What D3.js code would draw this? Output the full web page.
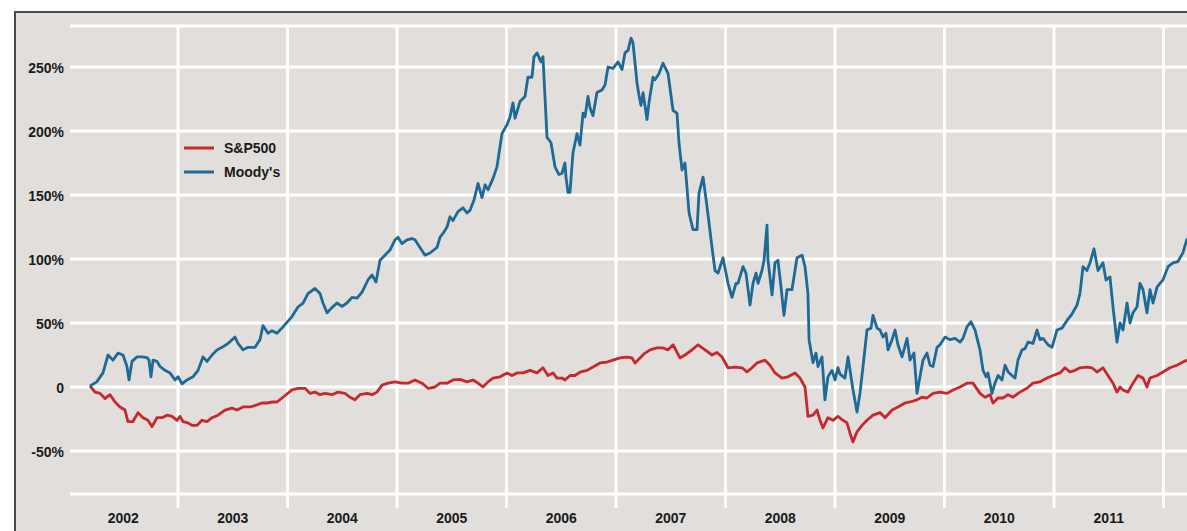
<!DOCTYPE html>
<html>
<head>
<meta charset="utf-8">
<script src="https://cdn.jsdelivr.net/npm/d3@7"></script>
<style>
  html, body { margin: 0; padding: 0; background: #ffffff; }
  svg { display: block; }
  text { font-family: "Liberation Sans", Arial, sans-serif; }
</style>
</head>
<body>
<svg id="chart" width="1187" height="531"></svg>
<script>
// ---------- data (decimal years, % change since start) ----------
const moodysDates = [2002.196,2002.258,2002.315,2002.361,2002.406,2002.452,2002.498,2002.534,2002.553,2002.580,2002.626,2002.671,2002.717,2002.735,2002.753,2002.772,2002.808,2002.836,2002.881,2002.927,2002.973,2003.000,2003.037,2003.082,2003.137,2003.183,2003.228,2003.265,2003.311,2003.356,2003.402,2003.457,2003.521,2003.548,2003.594,2003.639,2003.703,2003.749,2003.776,2003.822,2003.858,2003.904,2003.959,2004.041,2004.096,2004.142,2004.187,2004.251,2004.297,2004.324,2004.361,2004.406,2004.452,2004.498,2004.543,2004.589,2004.635,2004.680,2004.735,2004.772,2004.808,2004.845,2004.890,2004.936,2004.982,2005.009,2005.046,2005.091,2005.137,2005.164,2005.210,2005.256,2005.301,2005.365,2005.393,2005.420,2005.457,2005.484,2005.511,2005.557,2005.603,2005.639,2005.667,2005.703,2005.740,2005.776,2005.804,2005.831,2005.877,2005.913,2005.959,2006.005,2006.032,2006.059,2006.078,2006.123,2006.169,2006.196,2006.233,2006.251,2006.279,2006.315,2006.333,2006.370,2006.406,2006.443,2006.479,2006.507,2006.534,2006.543,2006.562,2006.580,2006.607,2006.644,2006.671,2006.699,2006.717,2006.744,2006.763,2006.790,2006.826,2006.872,2006.900,2006.927,2006.973,2007.018,2007.055,2007.082,2007.110,2007.137,2007.155,2007.192,2007.210,2007.228,2007.247,2007.283,2007.301,2007.338,2007.356,2007.393,2007.429,2007.475,2007.521,2007.557,2007.575,2007.603,2007.630,2007.667,2007.703,2007.740,2007.758,2007.795,2007.831,2007.877,2007.904,2007.932,2007.977,2008.023,2008.059,2008.096,2008.114,2008.160,2008.187,2008.224,2008.251,2008.279,2008.297,2008.333,2008.352,2008.379,2008.388,2008.425,2008.452,2008.479,2008.507,2008.534,2008.562,2008.607,2008.653,2008.699,2008.726,2008.753,2008.763,2008.799,2008.826,2008.845,2008.881,2008.908,2008.936,2008.973,2009.000,2009.027,2009.046,2009.091,2009.119,2009.164,2009.201,2009.228,2009.256,2009.292,2009.329,2009.347,2009.384,2009.411,2009.438,2009.466,2009.484,2009.521,2009.548,2009.575,2009.612,2009.630,2009.658,2009.685,2009.721,2009.749,2009.776,2009.804,2009.840,2009.868,2009.895,2009.932,2009.959,2010.005,2010.050,2010.096,2010.142,2010.169,2010.205,2010.242,2010.279,2010.324,2010.352,2010.379,2010.397,2010.434,2010.461,2010.489,2010.525,2010.553,2010.580,2010.616,2010.644,2010.671,2010.708,2010.735,2010.763,2010.808,2010.845,2010.872,2010.900,2010.945,2010.982,2011.027,2011.073,2011.119,2011.164,2011.210,2011.237,2011.265,2011.301,2011.329,2011.365,2011.402,2011.447,2011.475,2011.511,2011.539,2011.575,2011.603,2011.630,2011.667,2011.694,2011.721,2011.758,2011.785,2011.813,2011.849,2011.877,2011.904,2011.941,2011.968,2011.995,2012.041,2012.087,2012.132,2012.178,2012.215];
const moodysValues = [0.8,4,11,25,21,26.5,25,16,5.5,20,23.5,23.5,23,21,8,21,20,16,13,11,5.5,8,2.5,5.5,8,13,23.5,20,25,29,31,34,39,34,29,31,31,37,48,42,44,42,47,55,62.5,65.6,73,77,73,65.6,58,62,65.6,63,65.6,70,69.5,74,83.6,87.5,82,99,103,107,115,117,112,115,116,115,109,103,104.7,109,117,120,125,133,130,137,140,136,138,146,159,148,158,154,163,172,198,205,211,222,210,223,227,242,242,258,261,254,258,195,191,172,166,167,175,164,152,152,183,198,189,214,211,227,218,212,230,232,236,250,249,254,248,261,263,272.6,269,237.5,228,220,230,209,222,242,240,245,253,245,216,214,191,169.5,175,136,123,123,151.5,164,141,109,91,89,101,81,70,81,81,94,89,64,81,89,81,91,99,126.5,99,72,97,99,78,56,76,76,101,103,94,73,37,19,26.5,16,23.5,-10,8,13,5.5,15,10,7,23.5,-2,-19.5,-5,16,44.5,46,56,46,44.5,39,42,29,37,44.5,33,23.5,29,38,21,26.5,-5,8,21,26.5,17,16,31,33,39,37,38,35,38,47,51,44.5,29,13,8,11,-5,3,9,5.5,17,12,9,7,21,29,30,35,34,44.5,37,38,33,31,44.5,46,52,57,64,73,94,91,97,108,91,97,83.6,86,62.5,35,50,44.5,65.6,50,58,62.5,81,76,58,76,65.6,78,81,83.6,94,97,98,105,116];

const spDates = [2002.196,2002.242,2002.288,2002.333,2002.379,2002.425,2002.470,2002.516,2002.543,2002.589,2002.635,2002.680,2002.726,2002.763,2002.808,2002.854,2002.900,2002.945,2002.991,2003.018,2003.046,2003.091,2003.128,2003.174,2003.219,2003.265,2003.311,2003.365,2003.429,2003.493,2003.539,2003.594,2003.658,2003.721,2003.767,2003.813,2003.868,2003.904,2003.959,2004.041,2004.096,2004.160,2004.205,2004.251,2004.297,2004.342,2004.406,2004.461,2004.525,2004.571,2004.616,2004.662,2004.726,2004.772,2004.817,2004.863,2004.918,2004.982,2005.046,2005.100,2005.164,2005.228,2005.283,2005.347,2005.393,2005.457,2005.511,2005.575,2005.639,2005.694,2005.740,2005.785,2005.831,2005.877,2005.941,2006.005,2006.050,2006.096,2006.151,2006.215,2006.279,2006.333,2006.379,2006.425,2006.461,2006.507,2006.534,2006.580,2006.626,2006.671,2006.735,2006.790,2006.854,2006.918,2006.973,2007.037,2007.100,2007.146,2007.174,2007.219,2007.265,2007.311,2007.374,2007.429,2007.475,2007.521,2007.584,2007.630,2007.694,2007.749,2007.813,2007.877,2007.922,2007.968,2008.023,2008.087,2008.151,2008.196,2008.242,2008.288,2008.361,2008.406,2008.452,2008.516,2008.571,2008.635,2008.680,2008.726,2008.753,2008.799,2008.836,2008.863,2008.890,2008.936,2008.982,2009.027,2009.073,2009.110,2009.137,2009.164,2009.201,2009.247,2009.292,2009.347,2009.411,2009.457,2009.521,2009.575,2009.639,2009.685,2009.749,2009.795,2009.840,2009.895,2009.959,2010.023,2010.078,2010.142,2010.205,2010.260,2010.324,2010.370,2010.416,2010.443,2010.489,2010.534,2010.580,2010.626,2010.689,2010.753,2010.808,2010.872,2010.936,2010.991,2011.055,2011.100,2011.146,2011.192,2011.237,2011.301,2011.347,2011.393,2011.447,2011.493,2011.539,2011.575,2011.603,2011.630,2011.676,2011.721,2011.767,2011.813,2011.849,2011.877,2011.941,2011.995,2012.059,2012.123,2012.178,2012.215];
const spValues = [0.8,-4,-5,-9,-6,-11.7,-15.6,-18,-27,-27,-20,-24,-26,-31,-24,-24,-22,-23,-26,-23,-27,-28,-30,-30,-26,-27,-24,-22,-18,-16.5,-18,-15.6,-15.6,-14,-12.5,-12.5,-11.7,-11.7,-8,-2.3,-1,-1,-5,-4,-6,-5,-6,-4,-5,-8,-10,-6,-5,-6,-4,1.5,3,4,3,3,5.5,3,-1,0,3,3,5.5,6,4,5.5,3,0,4,7,8,11,9,11,11,13,11,15,9,11,7,7,5.5,9,9,11.7,13,15.6,18.8,19.5,21,22.7,23.4,22.7,18.8,22.7,26.5,29,30.5,30.5,29,33,22.7,25,29,33,29,25,27,23.4,15,15.6,15,11.7,15,18.8,21,17,11,7,8,11,7,0,-23,-22,-18,-26,-32,-24,-26,-23,-26,-28,-36,-43,-35,-30,-26,-22,-20,-24,-18,-15.6,-12.5,-11.7,-10,-8,-8.6,-5,-4,-5,-2.3,0,3,3,-5,-8,-6,-12.5,-8.6,-8.6,-6,-8,-4,-1,3,4,7,9,11,15,11.7,13,15,15.6,15,11.7,15,9,3,-4,0,-2.3,-4,3,9,7,0,7,9,11.7,15,17,19.5,21];

const yTicks = [-50, 0, 50, 100, 150, 200, 250];
const yTickLabels = ["-50%", "0", "50%", "100%", "150%", "200%", "250%"];
const yearBounds = [2003, 2004, 2005, 2006, 2007, 2008, 2009, 2010, 2011, 2012];
const yearLabels = ["2002", "2003", "2004", "2005", "2006", "2007", "2008", "2009", "2010", "2011"];
const seriesNames = ["S&P500", "Moody's"];
const seriesColors = ["#c8272d", "#1e6a96"];

// ---------- layout ----------
const W = 1187, H = 531;
const frameLeft = 15, frameTop = 12;
const plotTop = 26, plotBottom = 494, gridLeft = 70, vLineBottom = 508;
const fontSize = 14;

const svg = d3.select("#chart");
const x = d3.scaleLinear().domain([2002, 2012]).range([68.5, 1163.5]);
const y = d3.scaleLinear().domain([0, 250]).range([387, 67]);

// frame
svg.append("rect").attr("x", frameLeft).attr("y", frameTop)
  .attr("width", W - frameLeft + 5).attr("height", H - frameTop + 5)
  .attr("fill", "#e1dedb").attr("stroke", "#4a4a4a").attr("stroke-width", 2);

// horizontal grid lines
const hVals = [y.invert(plotTop), ...yTicks, y.invert(plotBottom)];
svg.append("g").selectAll("line").data(hVals).join("line")
  .attr("x1", gridLeft).attr("x2", W)
  .attr("y1", d => y(d)).attr("y2", d => y(d))
  .attr("stroke", "#ffffff").attr("stroke-width", 3);

// vertical grid lines
svg.append("g").selectAll("line").data(yearBounds).join("line")
  .attr("x1", d => x(d)).attr("x2", d => x(d))
  .attr("y1", plotTop).attr("y2", vLineBottom)
  .attr("stroke", "#ffffff").attr("stroke-width", 3);

// y axis labels
const yAxis = d3.axisLeft(y).tickValues(yTicks)
  .tickFormat((d, i) => yTickLabels[i]).tickSize(0).tickPadding(0);
const gy = svg.append("g").attr("transform", "translate(64,0)").call(yAxis);
gy.select(".domain").remove();
gy.selectAll("text").attr("font-size", fontSize).attr("font-weight", "bold")
  .attr("fill", "#1a1a1a").attr("font-family", "'Liberation Sans', Arial, sans-serif")
  .attr("dy", "0.36em");

// x labels (centered in each year)
svg.append("g").selectAll("text").data(yearLabels).join("text")
  .attr("x", d => x(+d + 0.5)).attr("y", 523)
  .attr("text-anchor", "middle").attr("font-size", fontSize).attr("font-weight", "bold")
  .attr("fill", "#1a1a1a").text(d => d);

// lines
const line = d3.line().x(d => x(d[0])).y(d => y(d[1]));
const spData = spDates.map((d, i) => [d, spValues[i]]);
const moData = moodysDates.map((d, i) => [d, moodysValues[i]]);

svg.append("path").datum(spData).attr("d", line)
  .attr("fill", "none").attr("stroke", seriesColors[0]).attr("stroke-width", 2.8)
  .attr("stroke-linejoin", "round");
svg.append("path").datum(moData).attr("d", line)
  .attr("fill", "none").attr("stroke", seriesColors[1]).attr("stroke-width", 2.8)
  .attr("stroke-linejoin", "round");

// legend
const lg = svg.append("g").attr("transform", "translate(184,148)");
seriesNames.forEach((name, i) => {
  lg.append("line").attr("x1", 0).attr("x2", 30).attr("y1", i * 24).attr("y2", i * 24)
    .attr("stroke", seriesColors[i]).attr("stroke-width", 3);
  lg.append("text").attr("x", 40).attr("y", i * 24).attr("dy", "0.36em")
    .attr("font-size", fontSize).attr("font-weight", "bold").attr("fill", "#1a1a1a")
    .text(name);
});
</script>
</body>
</html>
